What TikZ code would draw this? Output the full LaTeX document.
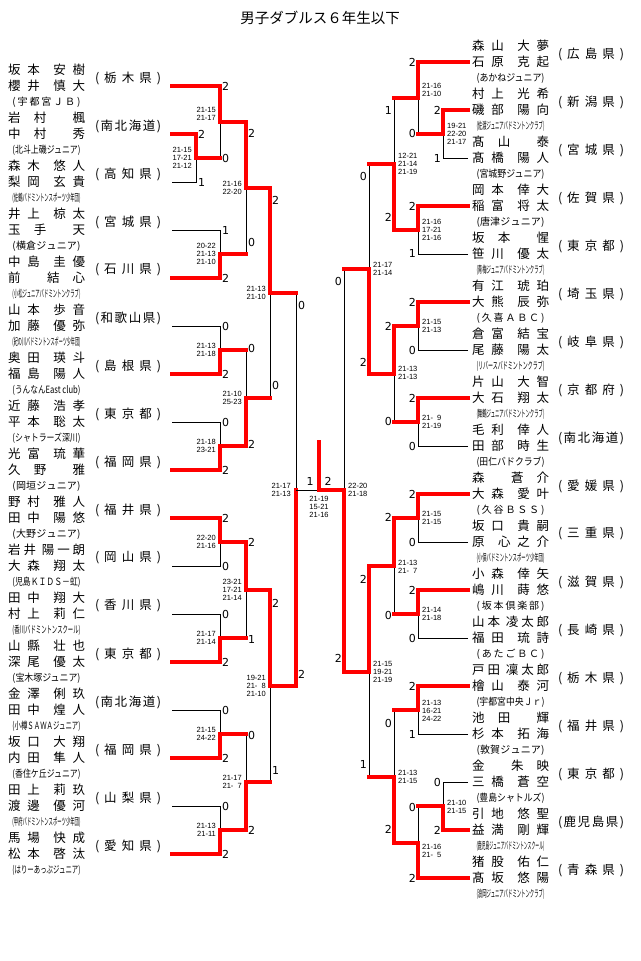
\documentclass[tikz,border=0pt]{standalone}
\usepackage{fontspec}
\usepackage{graphicx}
\setmainfont{Noto Sans CJK JP}
\newfontfamily\numfont{Liberation Sans}
\newfontfamily\ptsfont{DejaVu Sans}

\makeatletter
\def\spr#1{\expandafter\spr@a#1\spr@end}
\def\spr@end{\spr@end}
\def\spr@a#1{#1\spr@b}
\def\spr@b#1{\ifx#1\spr@end\else\hfill#1\expandafter\spr@b\fi}
\makeatother

\newcommand\nm[2]{\hbox to 77pt{\spr{#1}\hfill\hfill\spr{#2}}}
\newcommand\pref[1]{\hbox to 66pt{(\hfill\spr{#1}\hfill)}}
\newcommand\club[1]{\sbox0{(#1)}\ifdim\wd0>68pt\resizebox{68pt}{\height}{\usebox0}\else\hbox to 68pt{(\hfill\spr{#1}\hfill)}\fi}

\newcommand\bout[3]{\draw[lost] (#3) -| (#1); \draw[won] (#2) -| (#1);}
\newcommand\boutx[3]{\draw[lost] (#3) -| (#1); \draw[won] (#3) -- (#3 -| #1); \draw[won] (#2) -| (#1);}

\tikzset{
  lost/.style={line width=0.9pt},
  won/.style={red, line width=3.2pt, line cap=rect},
  namebox/.style={inner sep=0pt, font=\fontsize{12.5}{14}\selectfont},
  clubbox/.style={inner sep=0pt, font=\fontsize{10}{12}\selectfont},
  pts/.style={inner sep=0pt, font=\ptsfont\fontsize{11}{11}\selectfont},
  games/.style={inner sep=0pt, font=\numfont\fontsize{7.5}{8.3}\selectfont},
}

\begin{document}
\begin{tikzpicture}[x=1pt, y=-1pt]
\useasboundingbox (0,0) rectangle (640,961);

\node[namebox, font=\fontsize{14.5}{16}\selectfont] (title) at (320,18) {男子ダブルス６年生以下};

% left entries
\foreach \i/\fa/\ga/\fb/\gb/\cl/\pf in {
  1/坂本/安樹/櫻井/慎大/宇都宮ＪＢ/栃木県,
  2/岩村/楓/中村/秀/北斗上磯ジュニア/南北海道,
  3/森木/悠人/梨岡/玄貴/佐鶴バドミントンスポーツ少年団/高知県,
  4/井上/椋太/玉手/天/横倉ジュニア/宮城県,
  5/中島/圭優/前/結心/小松ジュニアバドミントンクラブ/石川県,
  6/山本/歩音/加藤/優弥/紀の川バドミントンスポーツ少年団/和歌山県,
  7/奥田/瑛斗/福島/陽人/うんなんEast club/島根県,
  8/近藤/浩孝/平本/聡太/シャトラーズ深川/東京都,
  9/光富/琉華/久野/雅/岡垣ジュニア/福岡県,
  10/野村/雅人/田中/陽悠/大野ジュニア/福井県,
  11/岩井/陽一朗/大森/翔太/児島ＫＩＤＳ－虹/岡山県,
  12/田中/翔大/村上/莉仁/香川バドミントンスクール/香川県,
  13/山縣/壮也/深尾/優太/宝木塚ジュニア/東京都,
  14/金澤/俐玖/田中/煌人/小樽ＳＡＷＡジュニア/南北海道,
  15/坂口/大翔/内田/隼人/香住ケ丘ジュニア/福岡県,
  16/田上/莉玖/渡邊/優河/甲府バドミントンスポーツ少年団/山梨県,
  17/馬場/快成/松本/啓汰/はりーあっぷジュニア/愛知県}{
  \pgfmathsetmacro\yy{86+48*(\i-1)}
  \coordinate (ea\i) at (172,\yy);
  \node[namebox, anchor=west] (na\i) at (8,\yy-16) {\nm{\fa}{\ga}};
  \node[namebox, anchor=west] (ma\i) at (8,\yy) {\nm{\fb}{\gb}};
  \node[clubbox] (ca\i) at (46.5,\yy+16) {\club{\cl}};
  \node[namebox] (pa\i) at (128,\yy-8) {\pref{\pf}};
}

% right entries
\foreach \i/\fa/\ga/\fb/\gb/\cl/\pf in {
  1/森山/大夢/石原/克起/あかねジュニア/広島県,
  2/村上/光希/磯部/陽向/佐渡ジュニアバドミントンクラブ/新潟県,
  3/髙山/泰/髙橋/陽人/宮城野ジュニア/宮城県,
  4/岡本/倖大/稲富/将太/唐津ジュニア/佐賀県,
  5/坂本/惺/笹川/優太/青梅ジュニアバドミントンクラブ/東京都,
  6/有江/琥珀/大熊/辰弥/久喜ＡＢＣ/埼玉県,
  7/倉富/結宝/尾藤/陽太/リバースバドミントンクラブ/岐阜県,
  8/片山/大智/大石/翔太/舞鶴ジュニアバドミントンクラブ/京都府,
  9/毛利/倖人/田部/時生/田仁バドクラブ/南北海道,
  10/森/蒼介/大森/愛叶/久谷ＢＳＳ/愛媛県,
  11/坂口/貴嗣/原/心之介/小俣バドミントンスポーツ少年団/三重県,
  12/小森/倖矢/嶋川/蒔悠/坂本倶楽部/滋賀県,
  13/山本/凌太郎/福田/琉詩/あたごＢＣ/長崎県,
  14/戸田/凜太郎/檜山/泰河/宇都宮中央Ｊｒ/栃木県,
  15/池田/輝/杉本/拓海/敦賀ジュニア/福井県,
  16/金/朱映/三橋/蒼空/豊島シャトルズ/東京都,
  17/引地/悠聖/益満/剛輝/鹿児島ジュニアバドミントンスクール/鹿児島県,
  18/猪股/佑仁/髙坂/悠陽/浪岡ジュニアバドミントンクラブ/青森県}{
  \pgfmathsetmacro\yy{62+48*(\i-1)}
  \coordinate (eb\i) at (468,\yy);
  \node[namebox, anchor=west] (nb\i) at (472,\yy-16) {\nm{\fa}{\ga}};
  \node[namebox, anchor=west] (mb\i) at (472,\yy) {\nm{\fb}{\gb}};
  \node[clubbox] (cb\i) at (510.5,\yy+16) {\club{\cl}};
  \node[namebox] (pb\i) at (591,\yy-8) {\pref{\pf}};
}

% junctions
\foreach \n/\x/\y in {lq/196/158, l1/220/122, l2/220/254, l3/220/350, l4/220/446,
  l5/220/542, l6/220/638, l7/220/734, l8/220/830, l9/246/188, l10/246/398,
  l11/246/590, l12/246/782, l13/270/293, l14/270/686, lsf/296/490,
  rq1/443/134, rq2/443/806, r1/418/98, r2/418/230, r3/418/326, r4/418/422,
  r5/418/518, r6/418/614, r7/418/710, r8/418/843, r9/394/164, r10/394/374,
  r11/394/566, r12/394/777, r13/369/269, r14/369/672, rsf/344/490,
  fin/319/490, cup/319/442}
  \coordinate (\n) at (\x,\y);

\bout{lq}{ea2}{ea3}
\boutx{l1}{ea1}{lq}
\bout{l2}{ea5}{ea4}
\bout{l3}{ea7}{ea6}
\bout{l4}{ea9}{ea8}
\bout{l5}{ea10}{ea11}
\bout{l6}{ea13}{ea12}
\bout{l7}{ea15}{ea14}
\bout{l8}{ea17}{ea16}
\boutx{l9}{l1}{l2}
\boutx{l10}{l4}{l3}
\boutx{l11}{l5}{l6}
\boutx{l12}{l8}{l7}
\boutx{l13}{l9}{l10}
\boutx{l14}{l11}{l12}
\boutx{lsf}{l14}{l13}

\bout{rq1}{eb2}{eb3}
\boutx{r1}{eb1}{rq1}
\bout{r2}{eb4}{eb5}
\bout{r3}{eb6}{eb7}
\bout{r4}{eb8}{eb9}
\bout{r5}{eb10}{eb11}
\bout{r6}{eb12}{eb13}
\bout{r7}{eb14}{eb15}
\bout{rq2}{eb17}{eb16}
\boutx{r8}{eb18}{rq2}
\boutx{r9}{r2}{r1}
\boutx{r10}{r3}{r4}
\boutx{r11}{r5}{r6}
\boutx{r12}{r8}{r7}
\boutx{r13}{r10}{r9}
\boutx{r14}{r11}{r12}
\boutx{rsf}{r14}{r13}

\draw[lost] (lsf) -- (fin);
\draw[won] (rsf) -- (fin) -- (cup);

% games won
\foreach \x/\y/\s [count=\k] in {198/134/2, 198/182/1, 222/86/2, 222/158/0,
  222/230/1, 222/278/2, 222/326/0, 222/374/2, 222/422/0, 222/470/2, 222/518/2,
  222/566/0, 222/614/0, 222/662/2, 222/710/0, 222/758/2, 222/806/0, 222/854/2,
  248/133/2, 248/242/0, 248/348/0, 248/444/2, 248/542/2, 248/639/1, 248/735/0,
  248/830/2, 272/200/2, 272/385/0, 272/603/2, 272/770/1, 298/305/0, 298/674/2}
  \node[pts, anchor=west] (sw\k) at (\x,\y) {\s};
\foreach \x/\y/\s [count=\k] in {441/110/2, 441/158/1, 416/62/2, 416/133/0,
  416/206/2, 416/253/1, 416/302/2, 416/350/0, 416/398/2, 416/446/0, 416/494/2,
  416/542/0, 416/590/2, 416/638/0, 416/686/2, 416/734/1, 441/782/0, 441/830/2,
  416/807/0, 416/878/2, 392/110/1, 392/217/2, 392/326/2, 392/421/0, 392/517/2,
  392/615/0, 392/723/0, 392/829/2, 367/176/0, 367/362/2, 367/579/2, 367/764/1,
  342/281/0, 342/658/2}
  \node[pts, anchor=east] (se\k) at (\x,\y) {\s};
\node[pts] (fl) at (310,481) {1};
\node[pts] (fr) at (328,481) {2};

% game scores
\foreach \x/\y/\t [count=\k] in {192/158/{21-15\\17-21\\21-12},
  216/114/{21-15\\21-17}, 216/254/{20-22\\21-13\\21-10}, 216/350/{21-13\\21-18},
  216/446/{21-18\\23-21}, 216/542/{22-20\\21-16}, 216/638/{21-17\\21-14},
  216/734/{21-15\\24-22}, 216/830/{21-13\\21-11}, 242/188/{21-16\\22-20},
  242/398/{21-10\\25-23}, 242/590/{23-21\\17-21\\21-14},
  242/782/{21-17\\21-\hphantom{1}7}, 266/293/{21-13\\21-10},
  266/686/{19-21\\21-\hphantom{1}8\\21-10}, 291/490/{21-17\\21-13}}
  \node[games, anchor=east, align=right] (gl\k) at (\x,\y) {\t};
\foreach \x/\y/\t [count=\k] in {447/134/{19-21\\22-20\\21-17},
  422/90/{21-16\\21-10}, 422/230/{21-16\\17-21\\21-16}, 422/326/{21-15\\21-13},
  422/422/{21-\hphantom{1}9\\21-19}, 422/518/{21-15\\21-15},
  422/614/{21-14\\21-18}, 422/711/{21-13\\16-21\\24-22},
  447/807/{21-10\\21-15}, 422/851/{21-16\\21-\hphantom{1}5},
  398/164/{12-21\\21-14\\21-19}, 398/373/{21-13\\21-13},
  398/567/{21-13\\21-\hphantom{1}7}, 398/777/{21-13\\21-15},
  373/269/{21-17\\21-14}, 373/672/{21-15\\19-21\\21-19}, 348/490/{22-20\\21-18}}
  \node[games, anchor=west, align=left] (gr\k) at (\x,\y) {\t};
\node[games, align=center] (gfin) at (319,507) {21-19\\15-21\\21-16};
\end{tikzpicture}
\end{document}
